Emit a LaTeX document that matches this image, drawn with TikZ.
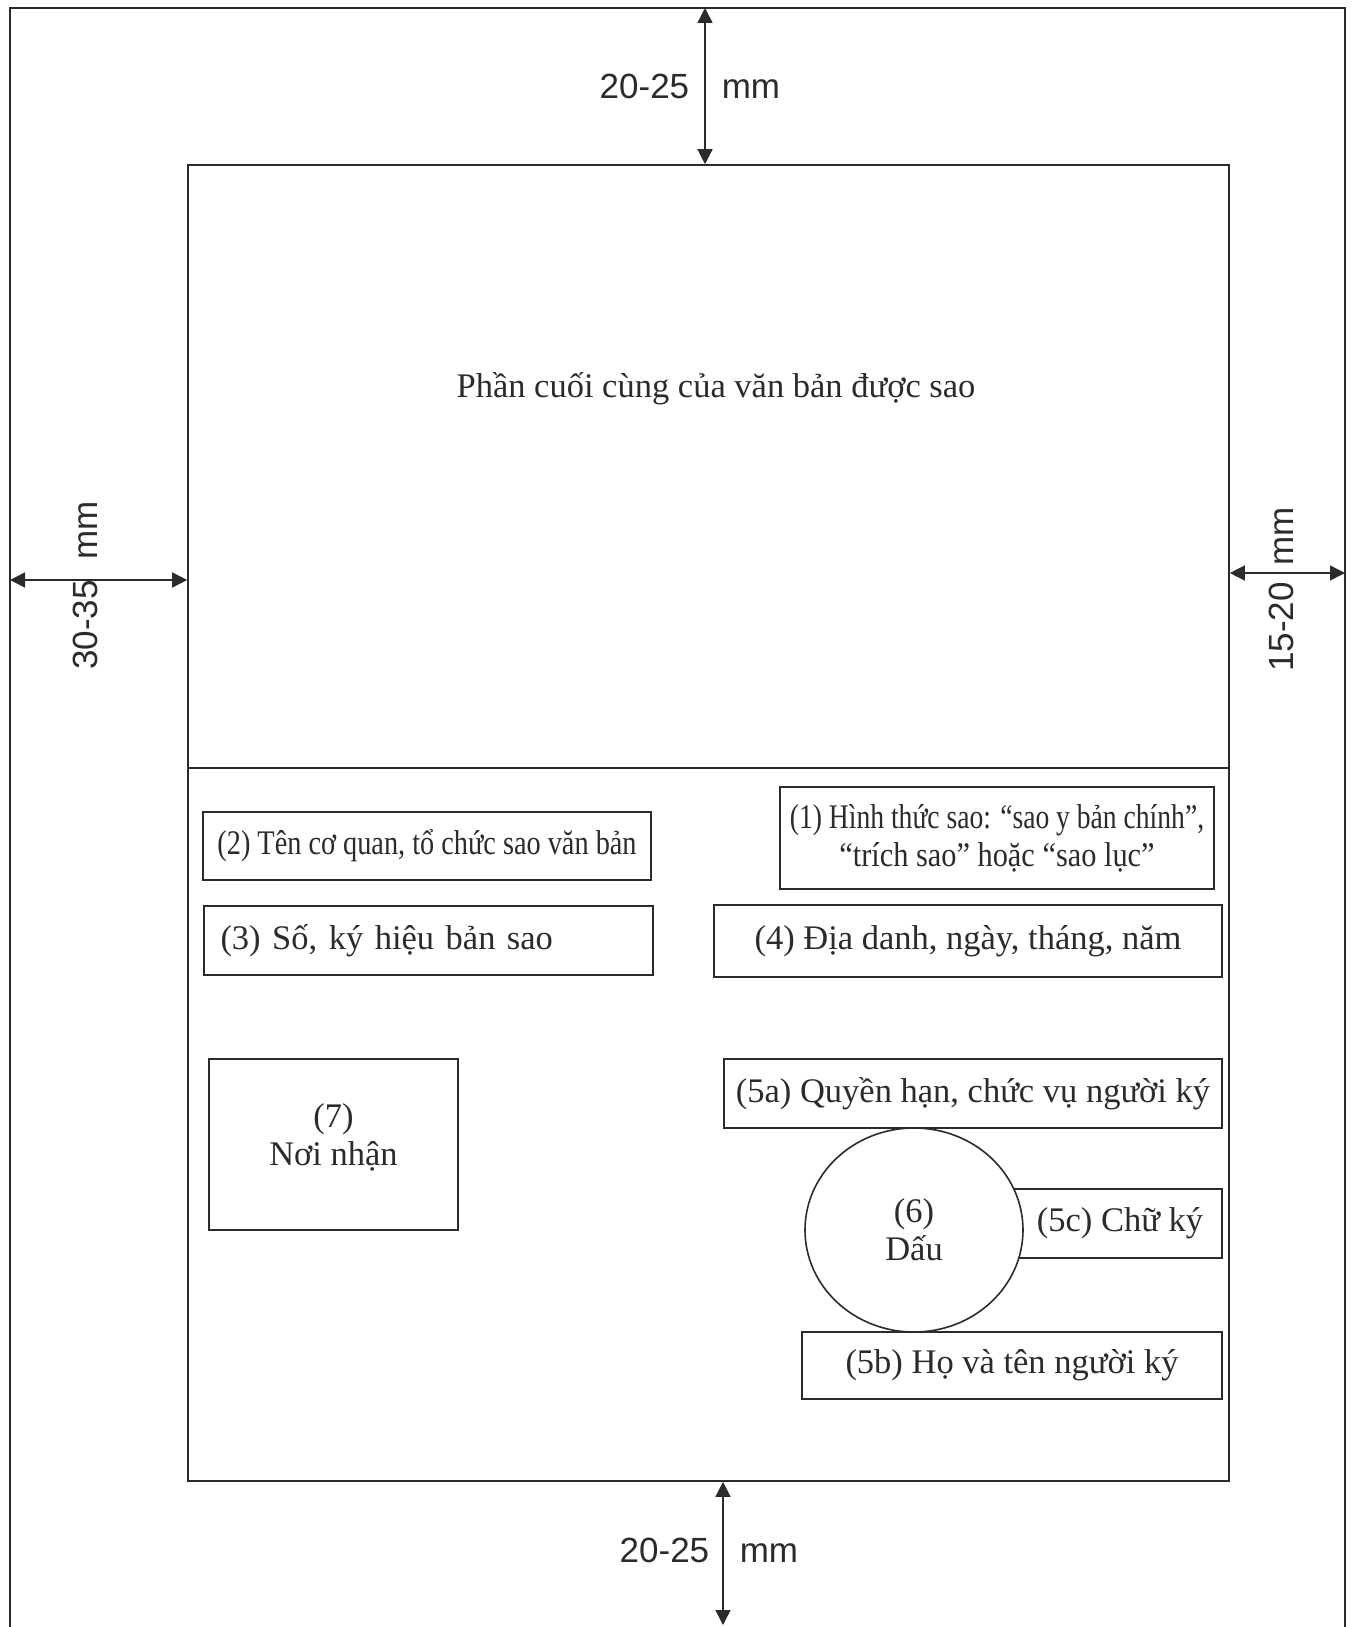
\documentclass[tikz,border=0pt]{standalone}
\usepackage{fontspec}
\setmainfont{Liberation Serif}
\setsansfont{Liberation Sans}
\usepackage{graphicx}
\usetikzlibrary{arrows.meta,calc,positioning,shapes.geometric}
\definecolor{KhungXam}{HTML}{2B2B2B}

\begin{document}
\begin{tikzpicture}[x=0.5pt,y=-0.5pt,line width=0.8pt,color=KhungXam,
  font=\fontsize{17.25}{19}\selectfont,
  hop/.style={draw,inner sep=0pt,align=center},
  sokt/.style={font=\sffamily\fontsize{17.5}{21}\selectfont,inner sep=0pt},
  kichthuoc/.style={<->,>={Triangle[length=7.5pt,width=7.5pt]},line width=0.7pt}]
  \useasboundingbox (0,0) rectangle (1355,1627);
  % outer page
  \draw (10,1627) -- (10,8) -- (1345,8) -- (1345,1627);
  % copied part and the copy block
  \node[hop,minimum width=520.5pt,minimum height=658pt] (vanban) at (708.5,823) {};
  \coordinate (chia) at (0,768);
  \draw (vanban.west |- chia) -- (vanban.east |- chia);
  \node (phancuoi) at (716,389) {Phần cuối cùng của văn bản được sao};

  \node[hop,minimum width=217pt,minimum height=51pt] (hinhthuc) at (997,838)
    {\scalebox{0.8}[1]{(1) Hình thức sao: “sao y bản chính”,}\\\scalebox{0.88}[1]{“trích sao” hoặc “sao lục”}};
  \node[hop,minimum width=224pt,minimum height=34pt] (tencoquan) at (427,846)
    {\scalebox{0.82}[1]{(2) Tên cơ quan, tổ chức sao văn bản}};
  \node[hop,text width=208pt,inner xsep=8.25pt,minimum height=34.5pt,align=left] (sokyhieu) at (428.5,940.5)
    {(3) Số, ký hiệu bản sao};
  \node[hop,minimum width=254pt,minimum height=36pt] (diadanh) at (968,941) {(4) Địa danh, ngày, tháng, năm};
  \node[hop,minimum width=249pt,minimum height=34.5pt] (quyenhan) at (973,1093.5) {(5a) Quyền hạn, chức vụ người ký};
  \node[hop,minimum width=111pt,minimum height=34.5pt] (chuky) at (1111,1223.5) {\hspace*{9pt}(5c) Chữ ký};
  \node[hop,ellipse,fill=white,minimum width=109pt,minimum height=102pt] (dau) at (914,1230) {(6)\\Dấu};
  \node[hop,minimum width=210pt,minimum height=33.5pt] (hoten) at (1012,1365.5) {(5b) Họ và tên người ký};
  \node[hop,minimum width=124.5pt,minimum height=85.5pt] (noinhan) at (333.5,1144.5) {(7)\\Nơi nhận\\[-9pt]\mbox{}};

  % margins
  \coordinate (trenA) at (705,8);
  \draw[kichthuoc] (trenA) -- (trenA |- vanban.north);
  \node[sokt,anchor=base east] (tren1) at (690,98) {20-25};
  \node[sokt,anchor=base west] (tren2) at (721,98) {mm};

  \coordinate (traiA) at (10,580);
  \draw[kichthuoc] (traiA) -- (traiA -| vanban.west);
  \node[sokt,rotate=90,anchor=base] (trai1) at (97,625) {30-35};
  \node[sokt,rotate=90,anchor=base] (trai2) at (97,530) {mm};

  \coordinate (phaiA) at (1345,573);
  \draw[kichthuoc] (phaiA -| vanban.east) -- (phaiA);
  \node[sokt,rotate=90,anchor=base] (phai1) at (1293,627) {15-20};
  \node[sokt,rotate=90,anchor=base] (phai2) at (1293,536) {mm};

  \coordinate (duoiA) at (723,1625);
  \draw[kichthuoc] (duoiA |- vanban.south) -- (duoiA);
  \node[sokt,anchor=base east] (duoi1) at (710,1562) {20-25};
  \node[sokt,anchor=base west] (duoi2) at (739,1562) {mm};
\end{tikzpicture}
\end{document}
